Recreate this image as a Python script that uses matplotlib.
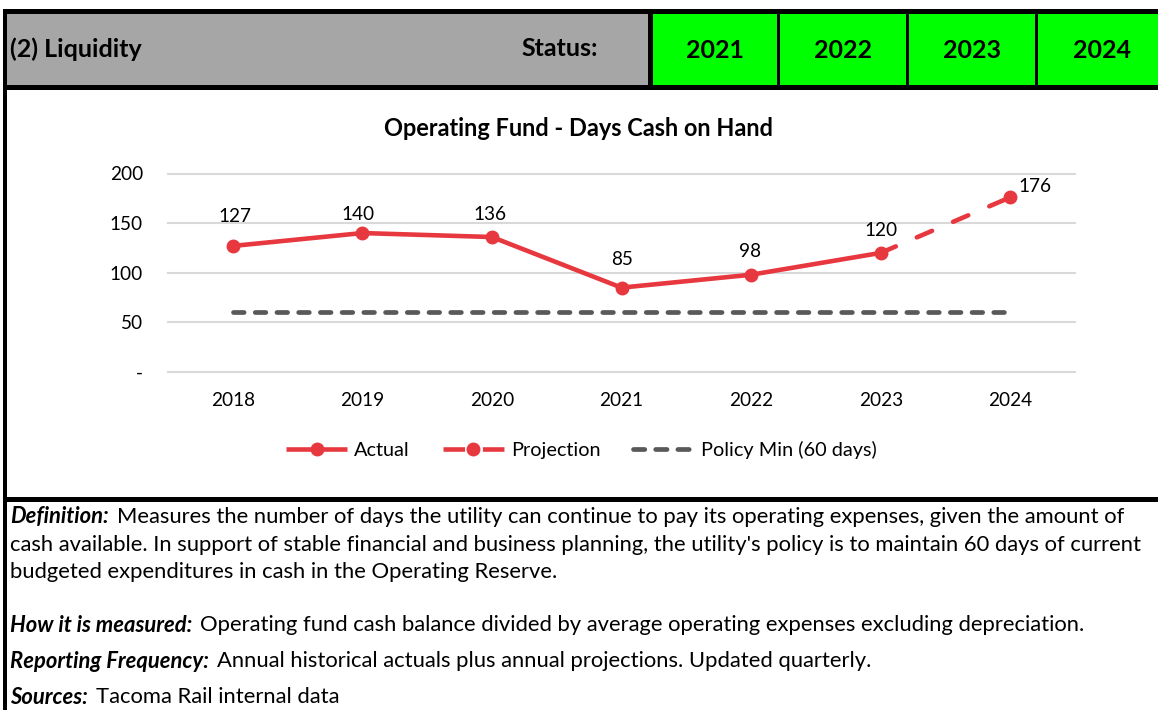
import numpy as np
import matplotlib
matplotlib.use("Agg")
import matplotlib.pyplot as plt
from matplotlib.patches import Rectangle
from matplotlib.lines import Line2D

# ---------------- data ----------------
years = ["2018", "2019", "2020", "2021", "2022", "2023", "2024"]
actual = [127, 140, 136, 85, 98, 120]
projection_years = ["2023", "2024"]
projection = [120, 176]
policy_min = [60, 60, 60, 60, 60, 60, 60]
y_ticks = [0, 50, 100, 150, 200]
y_tick_labels = ["-", "50", "100", "150", "200"]
status_years = ["2021", "2022", "2023", "2024"]

title = "Operating Fund - Days Cash on Hand"
header_left = "(2) Liquidity"
header_status = "Status:"
legend_labels = ["Actual", "Projection", "Policy Min (60 days)"]
notes = [
    ("Definition:", "Measures the number of days the utility can continue to pay its operating expenses, given the amount of"),
    ("", "cash available. In support of stable financial and business planning, the utility's policy is to maintain 60 days of current"),
    ("", "budgeted expenditures in cash in the Operating Reserve."),
    ("How it is measured:", "Operating fund cash balance divided by average operating expenses excluding depreciation."),
    ("Reporting Frequency:", "Annual historical actuals plus annual projections. Updated quarterly."),
    ("Sources:", "Tacoma Rail internal data"),
]

# ---------------- style ----------------
RED = "#E8383F"
DGRAY = "#595959"
GRID = "#D9D9D9"
GREEN = "#00FF00"
HGRAY = "#A6A6A6"
W, H = 1158, 710

plt.rcParams["font.family"] = ["Lato", "DejaVu Sans"]

fig = plt.figure(figsize=(W / 100, H / 100), dpi=100)
renderer = fig.canvas.get_renderer()


def fit_size(s, target_px, **kw):
    t = fig.text(0, 0, s, fontsize=10, **kw)
    w = t.get_window_extent(renderer).width
    t.remove()
    return 10 * target_px / w


# background / layout axes in pixel coordinates
bg = fig.add_axes([0, 0, 1, 1], zorder=0)
bg.set_xlim(0, W)
bg.set_ylim(H, 0)
bg.axis("off")


def box(x0, x1, y0, y1, color):
    bg.add_patch(Rectangle((x0, y0), x1 - x0, y1 - y0, facecolor=color,
                           edgecolor="none", lw=0))


# header
box(3, W, 9, 13.5, "black")
box(7, 648, 13.5, 85, HGRAY)
box(648, 653, 13.5, 85, "black")
cells = [(653, 777), (780, 906), (909, 1035), (1038, W)]
for (c0, c1) in cells:
    box(c0, c1, 13.5, 85, GREEN)
for sx in [777, 906, 1035]:
    box(sx, sx + 3, 13.5, 85, "black")
box(3, W, 85, 89.5, "black")
box(3, 7, 9, H, "black")
box(3, W, 497, 501.5, "black")

hsize = fit_size(header_left, 132, fontweight="bold")
bg.text(10, 49, header_left, fontsize=hsize, fontweight="bold", ha="left", va="center")
bg.text(598, 49, header_status, fontsize=hsize, fontweight="bold", ha="right", va="center")
for (c0, c1), yr in zip(cells, status_years):
    cx = (c0 + c1) / 2 if c1 < W else (c0 + 1165) / 2
    bg.text(cx, 50, yr, fontsize=hsize, fontweight="bold", ha="center", va="center")

# chart title
tsize = fit_size(title, 390, fontweight="bold")
bg.text(578, 129, title, fontsize=tsize, fontweight="bold", ha="center", va="center")

# chart axes
csize = fit_size("2018", 44)
lsize = fit_size("Policy Min (60 days)", 175)
ax_left, ax_right, ax_top, ax_bot = 168, 1075, 173.5, 372
ax = fig.add_axes([ax_left / W, 1 - ax_bot / H, (ax_right - ax_left) / W, (ax_bot - ax_top) / H], zorder=2)
ax.set_facecolor("none")
x = np.arange(len(years))
ax.set_xlim(-0.5, len(years) - 0.5)
ax.set_ylim(0, 200)
for s in ax.spines.values():
    s.set_visible(False)
ax.set_yticks(y_ticks, y_tick_labels)
ax.set_xticks(x, years)
ax.tick_params(axis="both", length=0, labelsize=csize, colors="black")
ax.tick_params(axis="y", pad=25 * 0.72)
ax.tick_params(axis="x", pad=20 * 0.72)
ax.yaxis.grid(True, color=GRID, lw=1.5)
ax.set_axisbelow(True)
for gl in ax.get_ygridlines():
    gl.set_clip_on(False)

lw = 3.3
ms = 9
ax.plot(x, policy_min, color=DGRAY, lw=3.4, ls=(0, (2.25, 2.35)),
        dash_capstyle="round", zorder=2, clip_on=False)
xp = [years.index(y) for y in projection_years]
ax.plot(xp, projection, color=RED, lw=lw, ls=(0, (3.6, 5.0)), dash_capstyle="round",
        marker="o", ms=ms, markevery=[1], zorder=3, clip_on=False)
ax.plot(x[:len(actual)], actual, color=RED, lw=lw, marker="o", ms=ms,
        solid_capstyle="round", zorder=4, clip_on=False)

label_vals = actual + [projection[-1]]
label_offsets_px = [(2, 29), (-4, 19), (-2, 23), (1, 28), (-1, 23), (0, 22), (25, 11)]
for i, (v, (dx, dy)) in enumerate(zip(label_vals, label_offsets_px)):
    ax.annotate(str(v), (x[i], v), xytext=(dx * 0.72, dy * 0.72), textcoords="offset points",
                ha="center", va="center", fontsize=csize, color="black", zorder=5)

# legend
handles = [
    Line2D([], [], color=RED, lw=lw, marker="o", ms=ms, solid_capstyle="butt"),
    Line2D([], [], color=RED, lw=lw, marker="o", ms=ms, ls=(0, (4.7, 1.3, 1.3, 1.3)),
           dash_capstyle="butt"),
    Line2D([], [], color=DGRAY, lw=3.4, ls=(0, (2.4, 2.3)), dash_capstyle="round"),
]
fs_px = lsize * 100 / 72
fig.legend(handles, legend_labels, loc="center", bbox_to_anchor=(581.5 / W, 1 - 450 / H),
           bbox_transform=fig.transFigure, ncol=3, frameon=False, fontsize=lsize,
           handlelength=61 / fs_px, handletextpad=7 / fs_px, columnspacing=33 / fs_px,
           borderpad=0, borderaxespad=0)

# notes
bsize = fit_size(notes[1][1], 1135)
note_y = [517, 545, 572, 625, 661, 697]
for (lab, txt), yy in zip(notes, note_y):
    xx = 10
    if lab:
        t = bg.text(xx, yy, lab, fontsize=bsize, fontweight="bold", fontstyle="italic",
                    ha="left", va="center")
        xx += t.get_window_extent(renderer).width + 8
    bg.text(xx, yy, txt, fontsize=bsize, ha="left", va="center")

fig.savefig("out.png", dpi=100)
